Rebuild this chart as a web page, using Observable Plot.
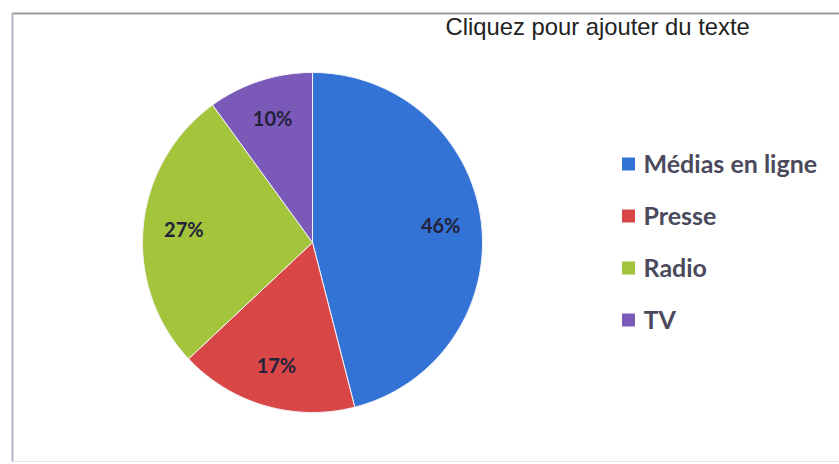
<!DOCTYPE html>
<html><head><meta charset="utf-8">
<script src="https://cdn.jsdelivr.net/npm/d3@7"></script>
<script src="https://cdn.jsdelivr.net/npm/@observablehq/plot@0.6"></script>
<style>body{margin:0;background:#fff;overflow:hidden}</style>
</head><body><div id="chart"></div>
<script>
// ---- data ----
const categories = ["Médias en ligne", "Presse", "Radio", "TV"];
const values = [46, 17, 27, 10];
const labels = ["46%", "17%", "27%", "10%"];
const colors = ["#3473d6", "#d94646", "#a3c43b", "#7b59b8"];
const note = "Cliquez pour ajouter du texte";

// ---- layout ----
const W = 839, H = 464, cx = 312, cy = 242, R = 170;
const rows = categories.map((c, i) => ({category: c, value: values[i], label: labels[i]}));
const arcs = d3.pie().sort(null).value(d => d.value)(rows);

const slicePts = [];
for (const a of arcs) {
  const c = a.data.category;
  slicePts.push({category: c, x: cx, y: cy});
  const n = Math.max(2, Math.ceil((a.endAngle - a.startAngle) / (Math.PI / 180)));
  for (let k = 0; k <= n; k++) {
    const t = a.startAngle + (a.endAngle - a.startAngle) * k / n;
    slicePts.push({category: c, x: cx + R * Math.sin(t), y: cy - R * Math.cos(t)});
  }
  slicePts.push({category: c, x: cx, y: cy});
}
const labelPts = arcs.map(a => {
  const t = (a.startAngle + a.endAngle) / 2, r = 0.76 * R;
  return {label: a.data.label, x: cx + r * Math.sin(t), y: cy - r * Math.cos(t)};
});
const legX = 622, legY0 = 164, legStep = 52, sq = 13;
const legend = rows.map((d, i) => ({category: d.category, y: legY0 + i * legStep}));

const chart = Plot.plot({
  width: W, height: H, margin: 0,
  x: {type: "linear", domain: [0, W], range: [0, W], axis: null},
  y: {type: "linear", domain: [0, H], range: [0, H], axis: null},
  color: {domain: categories, range: colors},
  style: {background: "#fff"},
  marks: [
    Plot.ruleY([13], {x1: 12, x2: W, stroke: "#9a9a9a", strokeWidth: 2}),
    Plot.ruleX([12], {y1: 13, y2: 462, stroke: "#b4b4c8", strokeWidth: 2}),
    Plot.ruleY([461], {x1: 12, x2: W, stroke: "#e4e4ea", strokeWidth: 1}),
    Plot.line(slicePts, {x: "x", y: "y", z: "category", fill: "category", stroke: "#f4f4f8", strokeWidth: 1}),
    Plot.text(labelPts, {x: "x", y: "y", text: "label", fill: "#22223a", fontSize: 20, fontWeight: 700, fontFamily: "Lato"}),
    Plot.rect(legend, {x1: legX, x2: legX + sq, y1: d => d.y - sq / 2, y2: d => d.y + sq / 2, fill: "category"}),
    Plot.text(legend, {x: legX + sq + 8, y: "y", text: "category", textAnchor: "start", fill: "#4a4a5c", fontSize: 25, fontWeight: 700, fontFamily: "Lato"}),
    Plot.text([note], {x: 445, y: 27, text: d => d, textAnchor: "start", fill: "#222", fontSize: 23.8, fontFamily: "Liberation Sans"})
  ]
});
document.getElementById("chart").append(chart);
</script>
</body></html>
